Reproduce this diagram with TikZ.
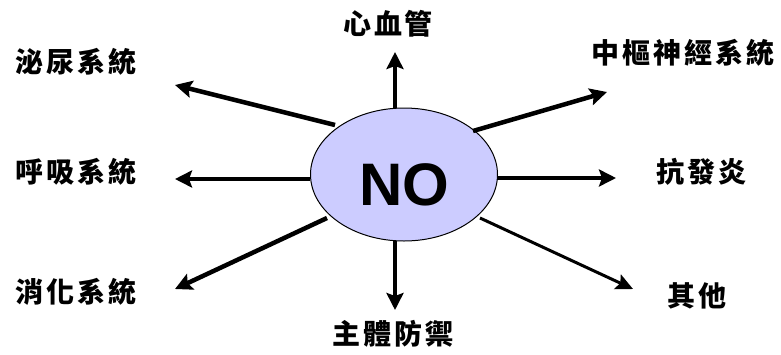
\documentclass[tikz,border=0pt]{standalone}
\usepackage{fontspec}
\setmainfont{Liberation Sans}
\newfontfamily\cjk{Noto Sans CJK TC}
\usetikzlibrary{arrows.meta,shapes.geometric}
\newcommand\lsp{\hspace{3pt}}
\tikzset{
  arr/.style={line width=4.5pt,-{Stealth[length=17pt,width=17pt,inset=3pt]}},
  thinarr/.style={line width=3pt,-{Stealth[length=17pt,width=16pt,inset=3pt]}},
  lab/.style={font=\cjk\bfseries\fontsize{28}{28}\selectfont,inner sep=0pt},
  hub/.style={ellipse,draw=black,line width=1pt,fill=hubfill,minimum width=187pt,minimum height=133pt,inner sep=0pt}
}
\definecolor{hubfill}{RGB}{204,204,255}
\begin{document}
\begin{tikzpicture}[x=1pt,y=-1pt]
\useasboundingbox (0,0) rectangle (781,354);
\node[hub] (no) at (404,174.5) {};
\node[font=\bfseries\fontsize{60}{60}\selectfont,inner sep=0pt] (notext) at (404.5,184.5) {NO};
% labels
\node[lab] (cv) at (388,24) {心\lsp 血\lsp 管};
\node[lab] (ur) at (76,62) {泌\lsp 尿\lsp 系\lsp 統};
\node[lab] (rs) at (76,172) {呼\lsp 吸\lsp 系\lsp 統};
\node[lab] (dg) at (76,292) {消\lsp 化\lsp 系\lsp 統};
\node[lab] (hd) at (393,334) {主\lsp 體\lsp 防\lsp 禦};
\node[lab] (cn) at (683,53) {中\lsp 樞\lsp 神\lsp 經\lsp 系\lsp 統};
\node[lab] (ai) at (701,172) {抗\lsp 發\lsp 炎};
\node[lab] (ot) at (697,296) {其\lsp 他};
% arrow ends
\coordinate (sU) at (395,108);  \coordinate (tU) at (395,52);
\coordinate (sTL) at (335,125); \coordinate (tTL) at (175,85);
\coordinate (sL) at (310,179);  \coordinate (tL) at (175,179);
\coordinate (sBL) at (327,218); \coordinate (tBL) at (175,289);
\coordinate (sD) at (395,241);  \coordinate (tD) at (395,310);
\coordinate (sTR) at (473,131); \coordinate (tTR) at (607,92);
\coordinate (sR) at (497,178);  \coordinate (tR) at (616,178);
\coordinate (sBR) at (480,218); \coordinate (tBR) at (633,289);
\draw[arr] (sU) -- (tU);
\draw[arr] (sTL) -- (tTL);
\draw[arr] (sL) -- (tL);
\draw[arr] (sBL) -- (tBL);
\draw[arr] (sD) -- (tD);
\draw[arr] (sTR) -- (tTR);
\draw[arr] (sR) -- (tR);
\draw[thinarr] (sBR) -- (tBR);
\end{tikzpicture}
\end{document}
